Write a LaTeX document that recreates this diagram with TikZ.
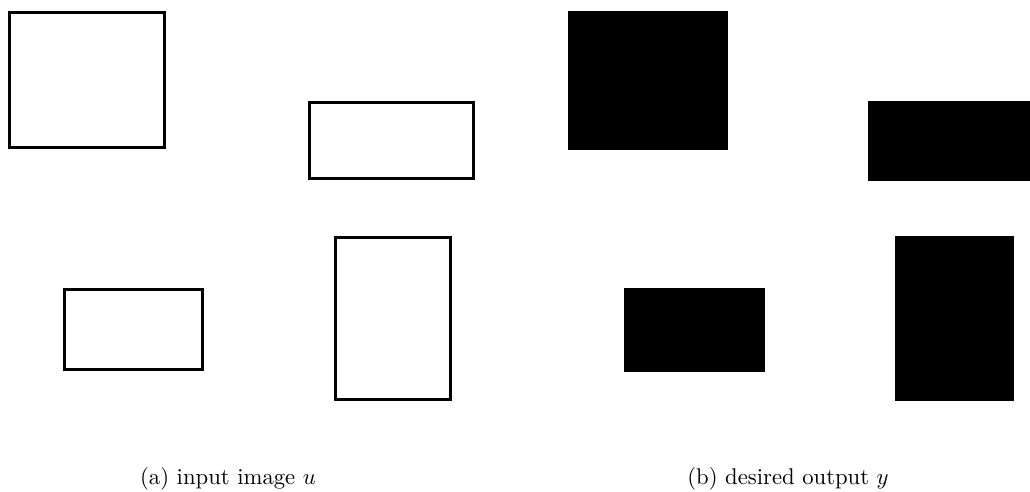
\documentclass[tikz,border=0pt]{standalone}
\begin{document}
\begin{tikzpicture}[x=0.4405pt,y=-0.4405pt,
  outline/.style={draw=black,line width=1.32pt},
  solid box/.style={fill=black},
  caption/.style={anchor=base,inner sep=0pt}]
\useasboundingbox (0,0) rectangle (1030,492);
% (a) input image
\draw[outline] (9.5,12.5) rectangle (164.5,147.5);
\draw[outline] (309.5,102.5) rectangle (473.5,178.5);
\draw[outline] (64.5,289.5) rectangle (202.5,369.5);
\draw[outline] (335.5,237.5) rectangle (450.5,399.5);
% (b) desired output
\fill[solid box] (568,11) rectangle (728,150);
\fill[solid box] (868,101) rectangle (1030,181);
\fill[solid box] (624,288) rectangle (765,372);
\fill[solid box] (895,236) rectangle (1014,401);
% captions
\node[caption] (capa) at (228,484) {(a) input image $u$};
\node[caption] (capb) at (788,484) {(b) desired output $y$};
\end{tikzpicture}
\end{document}
